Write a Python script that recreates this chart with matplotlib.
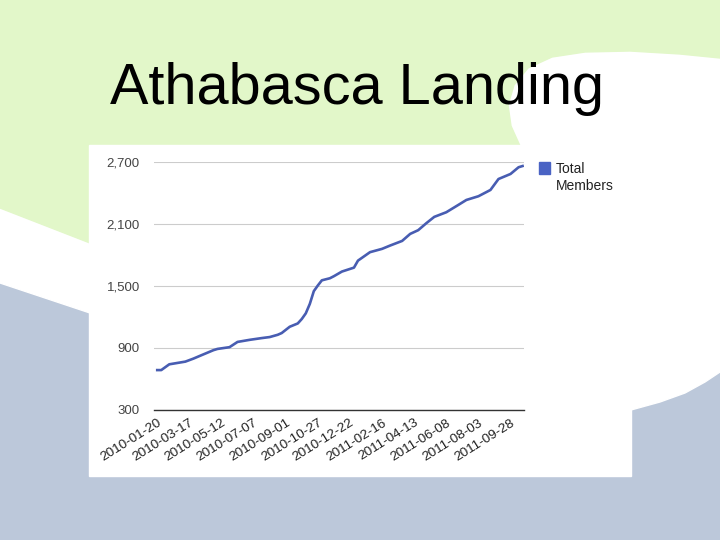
import pandas as pd
import matplotlib
matplotlib.use("Agg")
import matplotlib.pyplot as plt
from matplotlib.patches import Rectangle, Polygon
from matplotlib.ticker import FuncFormatter

plt.rcParams["font.family"] = ["Liberation Sans", "DejaVu Sans"]

# weekly member counts
dates = ["2010-01-20", "2010-01-27", "2010-02-10", "2010-02-24", "2010-03-10",
         "2010-03-24", "2010-04-07", "2010-04-28", "2010-05-05", "2010-05-26",
         "2010-06-09", "2010-06-30", "2010-07-21", "2010-08-04", "2010-08-18",
         "2010-08-25", "2010-09-08", "2010-09-22", "2010-09-29", "2010-10-06",
         "2010-10-13", "2010-10-20", "2010-10-27", "2010-11-03", "2010-11-17",
         "2010-11-24", "2010-12-08", "2010-12-29", "2011-01-05", "2011-01-26",
         "2011-02-16", "2011-03-02", "2011-03-23", "2011-04-06", "2011-04-20",
         "2011-05-04", "2011-05-18", "2011-06-08", "2011-06-29", "2011-07-13",
         "2011-08-03", "2011-08-24", "2011-09-07", "2011-09-28", "2011-10-12",
         "2011-10-19"]
members = [685, 685, 741, 754, 767,
           796, 829, 878, 890, 907,
           958, 978, 995, 1005, 1027,
           1044, 1105, 1137, 1180, 1235,
           1326, 1450, 1505, 1555, 1575,
           1595, 1640, 1678, 1746, 1828,
           1860, 1892, 1937, 2005, 2041,
           2108, 2170, 2215, 2286, 2334,
           2370, 2431, 2537, 2586, 2651,
           2663]

tick_dates = ["2010-01-20", "2010-03-17", "2010-05-12", "2010-07-07", "2010-09-01",
              "2010-10-27", "2010-12-22", "2011-02-16", "2011-04-13", "2011-06-08",
              "2011-08-03", "2011-09-28"]
y_ticks = [300, 900, 1500, 2100, 2700]

title = "Athabasca Landing"
legend_label = ["Total", "Members"]

green = "#E2F7C9"
slate = "#BCC8DA"
line_col = "#485DB2"

fig = plt.figure(figsize=(7.2, 5.4), dpi=100)

# slide background, drawn in pixel coordinates
bg = fig.add_axes([0, 0, 1, 1])
bg.set_xlim(0, 720)
bg.set_ylim(540, 0)
bg.axis("off")
bg.add_patch(Rectangle((0, 0), 720, 540, color=slate))
bg.add_patch(Polygon([(0, 0), (720, 0), (720, 372), (705, 382), (685, 393),
                      (660, 402), (631, 410), (300, 380), (90, 313), (0, 283)],
                     color="white"))
bg.add_patch(Polygon([(0, 0), (720, 0), (720, 58), (680, 54), (630, 51),
                      (585, 52), (552, 57), (528, 68), (514, 85), (508, 105),
                      (511, 126), (520, 146), (300, 200), (90, 243), (0, 208)],
                     color=green))
bg.add_patch(Rectangle((89, 145), 542, 331, color="white"))

fig.text(110 / 720, 1 - 104 / 540, title, fontsize=41.5, va="baseline",
         ha="left", color="black")

ax = fig.add_axes([153.8 / 720, 1 - 409.8 / 540, 370.5 / 720, 247.6 / 540])
ax.patch.set_visible(False)

x = pd.to_datetime(dates)
ax.plot(x, members, color=line_col, linewidth=1.9, solid_joinstyle="round")

ax.set_ylim(300, 2700)
ax.set_yticks(y_ticks)
ax.yaxis.set_major_formatter(FuncFormatter(lambda v, p: f"{int(v):,}"))
ax.set_xlim(pd.Timestamp("2010-01-14"), pd.Timestamp("2011-10-22"))
ax.set_xticks(pd.to_datetime(tick_dates))
ax.set_xticklabels(tick_dates, rotation=32, ha="right", rotation_mode="anchor")

ax.grid(axis="y", color="#CCCCCC", linewidth=0.8)
ax.set_axisbelow(True)
for s in ["top", "right", "left"]:
    ax.spines[s].set_visible(False)
ax.spines["bottom"].set_color("#333333")
ax.spines["bottom"].set_linewidth(1.0)
ax.tick_params(axis="y", length=0, pad=10, labelsize=9.5, labelcolor="#444444")
ax.tick_params(axis="x", length=0, pad=5, labelsize=9.7, labelcolor="#222222")

# legend
bg.add_patch(Rectangle((539, 162), 11, 12, color="#4A63C4"))
fig.text(556 / 720, 1 - 169 / 540, legend_label[0], fontsize=10,
         va="center", ha="left", color="#222222")
fig.text(556 / 720, 1 - 186 / 540, legend_label[1], fontsize=10,
         va="center", ha="left", color="#222222")

fig.savefig("out.png", dpi=100)
